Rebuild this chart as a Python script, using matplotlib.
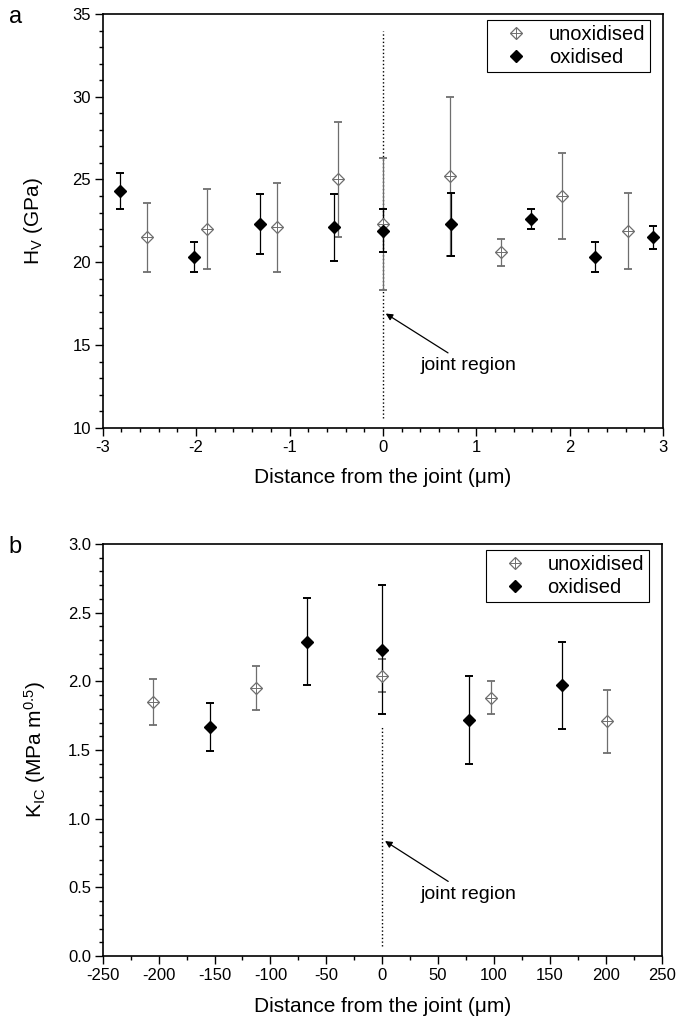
import matplotlib
matplotlib.use("Agg")
import matplotlib.pyplot as plt
from matplotlib.lines import Line2D
from matplotlib.ticker import MultipleLocator, FormatStrFormatter

plt.rcParams['font.family'] = ['Liberation Sans', 'DejaVu Sans']
plt.rcParams['mathtext.fontset'] = 'custom'
plt.rcParams['mathtext.rm'] = 'Liberation Sans'
plt.rcParams['mathtext.it'] = 'Liberation Sans'
plt.rcParams['axes.unicode_minus'] = False

# (a) Vickers hardness across the joint, distance in um
hv_unox_x = [-2.53, -1.88, -1.13, -0.48, 0.0, 0.72, 1.26, 1.92, 2.62]
hv_unox_y = [21.5, 22.0, 22.1, 25.0, 22.3, 25.2, 20.6, 24.0, 21.9]
hv_unox_err = [2.1, 2.4, 2.7, 3.5, 4.0, 4.8, 0.8, 2.6, 2.3]
hv_ox_x = [-2.81, -2.02, -1.32, -0.52, 0.0, 0.73, 1.59, 2.27, 2.89]
hv_ox_y = [24.3, 20.3, 22.3, 22.1, 21.9, 22.3, 22.6, 20.3, 21.5]
hv_ox_err = [1.1, 0.9, 1.8, 2.0, 1.3, 1.9, 0.6, 0.9, 0.7]

# (b) fracture toughness across the joint, distance in um
kic_unox_x = [-205, -113, 0, 97, 201]
kic_unox_y = [1.85, 1.95, 2.04, 1.88, 1.71]
kic_unox_err = [0.165, 0.16, 0.12, 0.12, 0.23]
kic_ox_x = [-154, -67, 0, 78, 161]
kic_ox_y = [1.67, 2.29, 2.23, 1.72, 1.97]
kic_ox_err = [0.175, 0.315, 0.47, 0.32, 0.315]

GREY = '#6e6e6e'


def draw_series(ax, ux, uy, ue, ox, oy, oe):
    ax.errorbar(ux, uy, yerr=ue, fmt='none', ecolor=GREY, elinewidth=0.9,
                capsize=3, capthick=1.3, zorder=3)
    ax.plot(ux, uy, 'D', ms=6, mfc='white', mec=GREY, mew=0.9, ls='none', zorder=4)
    ax.plot(ux, uy, '+', ms=8, mec=GREY, mew=0.7, ls='none', zorder=5)
    ax.errorbar(ox, oy, yerr=oe, fmt='none', ecolor='black', elinewidth=0.9,
                capsize=3, capthick=1.4, zorder=3)
    ax.plot(ox, oy, 'D', ms=6, mfc='black', mec='black', ls='none', zorder=6)


def style_axes(ax):
    for s in ax.spines.values():
        s.set_linewidth(1.2)
    ax.tick_params(which='both', direction='out', top=False, right=False,
                   labelsize=12, width=1.0)
    ax.tick_params(which='major', length=5.5, pad=3)
    ax.tick_params(which='minor', length=3)
    h_unox = (Line2D([], [], marker='D', ms=6, mfc='white', mec=GREY, mew=0.9, ls='none'),
              Line2D([], [], marker='+', ms=8, mec=GREY, mew=0.7, ls='none'))
    h_ox = Line2D([], [], marker='D', ms=6, mfc='black', mec='black', ls='none')
    leg = ax.legend([h_unox, h_ox], ['unoxidised', 'oxidised'], loc='upper right',
                    bbox_to_anchor=(0.977, 0.986), borderaxespad=0, fontsize=14.5,
                    fancybox=False, edgecolor='black', framealpha=1,
                    handlelength=2.4, handletextpad=0.4, borderpad=0.25,
                    labelspacing=0.2)
    leg.get_frame().set_linewidth(0.8)


fig = plt.figure(figsize=(6.85, 10.22), dpi=100)
ax1 = fig.add_axes([0.150, 0.5815, 0.818, 0.4048])
ax2 = fig.add_axes([0.150, 0.0646, 0.816, 0.4031])

# panel a
ax1.plot([0, 0], [10.6, 34.0], ls=':', color='black', lw=1.0, zorder=1)
draw_series(ax1, hv_unox_x, hv_unox_y, hv_unox_err, hv_ox_x, hv_ox_y, hv_ox_err)
ax1.set_xlim(-3, 3)
ax1.set_ylim(10, 35)
ax1.xaxis.set_major_locator(MultipleLocator(1))
ax1.xaxis.set_minor_locator(MultipleLocator(0.2))
ax1.yaxis.set_major_locator(MultipleLocator(5))
ax1.yaxis.set_minor_locator(MultipleLocator(1))
ax1.set_xlabel('Distance from the joint (\u03bcm)', fontsize=15, labelpad=10)
ax1.set_ylabel('H$_\\mathregular{V}$ (GPa)', fontsize=15, labelpad=20)
ax1.annotate('joint region', xy=(0.03, 16.9), xytext=(0.40, 13.75),
             fontsize=14, va='center', ha='left',
             arrowprops=dict(arrowstyle='-|>', color='black', lw=0.9,
                             mutation_scale=10, shrinkA=2, shrinkB=0))
style_axes(ax1)
fig.text(0.022, 0.983, 'a', fontsize=17, va='center', ha='center')

# panel b
ax2.plot([0, 0], [0.07, 1.67], ls=':', color='black', lw=1.0, zorder=1)
draw_series(ax2, kic_unox_x, kic_unox_y, kic_unox_err, kic_ox_x, kic_ox_y, kic_ox_err)
ax2.set_xlim(-250, 250)
ax2.set_ylim(0, 3)
ax2.xaxis.set_major_locator(MultipleLocator(50))
ax2.xaxis.set_minor_locator(MultipleLocator(25))
ax2.yaxis.set_major_locator(MultipleLocator(0.5))
ax2.yaxis.set_minor_locator(MultipleLocator(0.1))
ax2.yaxis.set_major_formatter(FormatStrFormatter('%.1f'))
ax2.set_xlabel('Distance from the joint (\u03bcm)', fontsize=15, labelpad=10)
ax2.set_ylabel('K$_\\mathregular{IC}$ (MPa m$^\\mathregular{0.5}$)', fontsize=15, labelpad=14)
ax2.annotate('joint region', xy=(2.5, 0.837), xytext=(34, 0.45),
             fontsize=14, va='center', ha='left',
             arrowprops=dict(arrowstyle='-|>', color='black', lw=0.9,
                             mutation_scale=10, shrinkA=2, shrinkB=0))
style_axes(ax2)
fig.text(0.022, 0.465, 'b', fontsize=17, va='center', ha='center')

fig.savefig('out.png', dpi=100)
